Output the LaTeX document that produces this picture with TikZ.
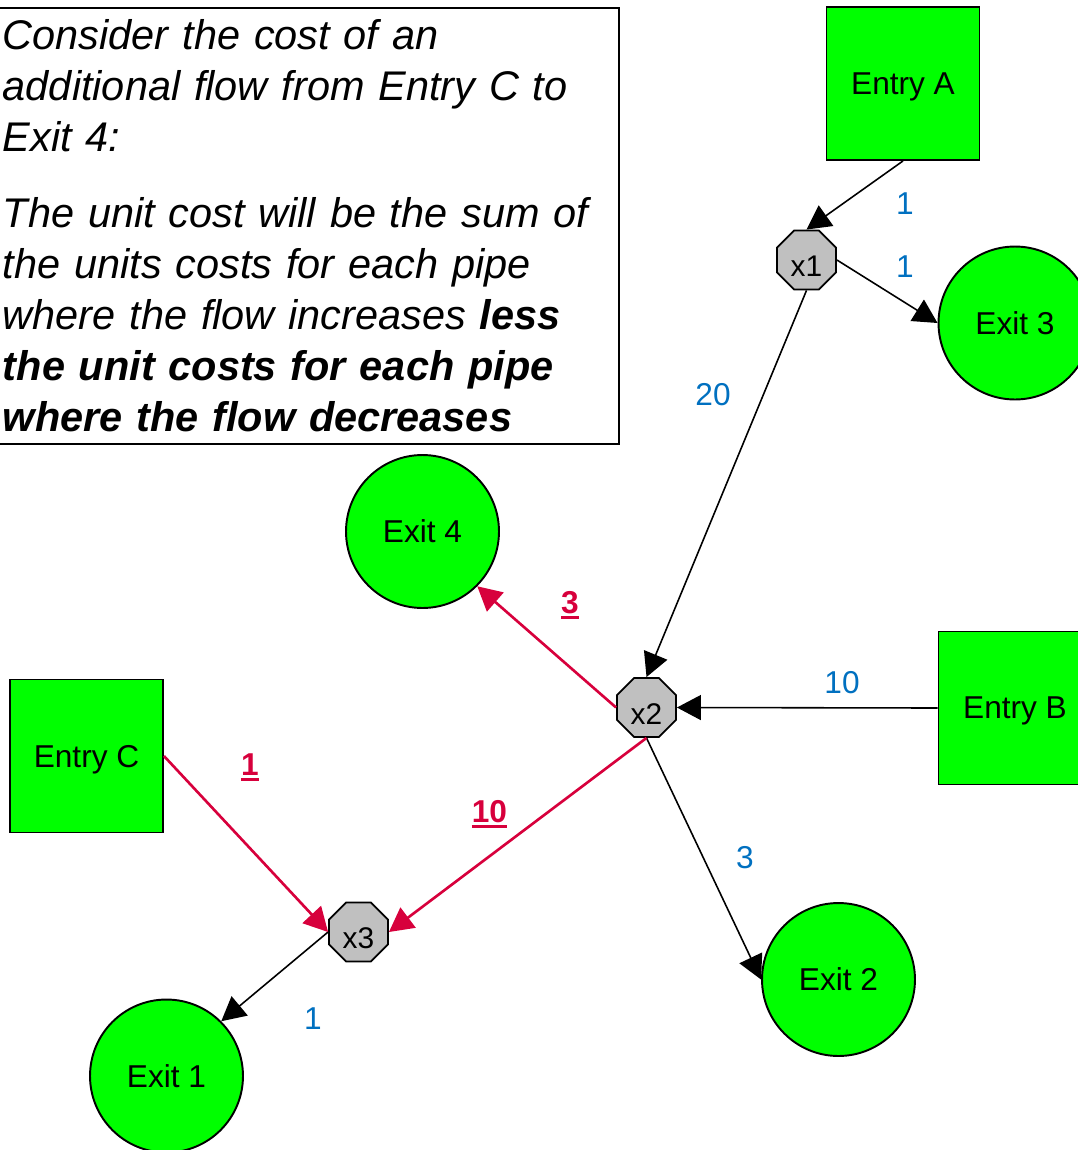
\documentclass[tikz,border=0pt]{standalone}
\usepackage{fontspec}
\setmainfont{Liberation Sans}
\usetikzlibrary{arrows.meta,shapes.geometric}
\definecolor{ExitGreen}{RGB}{0,255,0}
\definecolor{JnGrey}{RGB}{192,192,192}
\definecolor{CostBlue}{RGB}{0,112,192}
\definecolor{ChgRed}{RGB}{215,0,60}
\newcommand{\ulnum}[1]{\leavevmode\setbox0\hbox{#1}\rlap{\rule[-3.2pt]{\wd0}{1.5pt}}\box0}

\begin{document}
\begin{tikzpicture}[
    x=0.02cm, y=-0.02cm,
    font=\fontsize{18}{21}\selectfont,
    ent/.style={draw, line width=1.1pt, fill=ExitGreen, minimum size=3.06cm, inner sep=0pt, text depth=0pt},
    ext/.style={draw, circle, line width=1.1pt, fill=ExitGreen, minimum size=3.06cm, inner sep=0pt},
    jn/.style={draw, regular polygon, regular polygon sides=8, fill=JnGrey, line width=1pt, minimum size=1.28cm, inner sep=0pt, text height=19pt, text depth=0pt, font=\fontsize{17}{20}\selectfont},
    pipe/.style={-{Triangle[length=4.8mm,width=5mm]}, line width=0.9pt},
    chg/.style={pipe, ChgRed, line width=1.5pt},
    cost/.style={text=CostBlue},
    dcost/.style={text=ChgRed, font=\fontsize{18}{21}\selectfont\bfseries, anchor=base}
  ]
    \clip (0,0) rectangle (1078,1150);
    \node[draw, line width=1pt, anchor=north west, text width=12.22cm, inner xsep=0.1cm, inner ysep=0.23cm, align=left, font=\fontsize{23.6}{29.1}\selectfont\itshape] (note) at (-3,7) {Consider the cost of an\\ additional flow from Entry C to\\ Exit 4:\\[14pt] The unit cost will be the sum of\\ the units costs for each pipe\\ where the flow increases \textbf{less}\\ \textbf{the unit costs for each pipe}\\ \textbf{where the flow decreases}};
    \node[ent] (entA) at (903,83.5) {Entry A};
    \node[ent] (entB) at (1015,708) {Entry B};
    \node[ent] (entC) at (86.5,756) {Entry C};
    \node[ext] (ex3) at (1015,323) {Exit 3};
    \node[ext] (ex4) at (422.5,531.5) {Exit 4};
    \node[ext] (ex2) at (838.5,979.5) {Exit 2};
    \node[ext] (ex1) at (166.5,1076) {Exit 1};
    \node[jn] (x1) at (806.5,260) {x1};
    \node[jn] (x2) at (646.5,707.5) {x2};
    \node[jn] (x3) at (358.5,932) {x3};
    \draw[pipe] (entA.south) -- (x1.north);
    \draw[pipe] (x1.east) -- (ex3.west);
    \draw[pipe] (x1.south) -- (x2.north);
    \draw[pipe] (entB.west) -- (x2.east);
    \draw[pipe] (x2.south) -- (ex2.west);
    \draw[pipe] (x3.west) -- (ex1.north east);
    \draw[chg] (x2.west) -- (ex4.south east);
    \draw[chg] (x2.south) -- (x3.east);
    \draw[chg] (entC.east) -- (x3.west);
    \node[cost] (cAx1) at (905,204) {1};
    \node[cost] (cx1e3) at (905,267) {1};
    \node[cost] (cx1x2) at (713,395) {20};
    \node[cost] (cBx2) at (842,683) {10};
    \node[cost] (cx2e2) at (745,858) {3};
    \node[cost] (cx3e1) at (313,1019) {1};
    \node[dcost] (dx2e4) at (570,613) {\ulnum{3}};
    \node[dcost] (dCx3) at (250,775) {\ulnum{1}};
    \node[dcost] (dx2x3) at (489.5,822) {\ulnum{10}};
  \end{tikzpicture}
\end{document}
